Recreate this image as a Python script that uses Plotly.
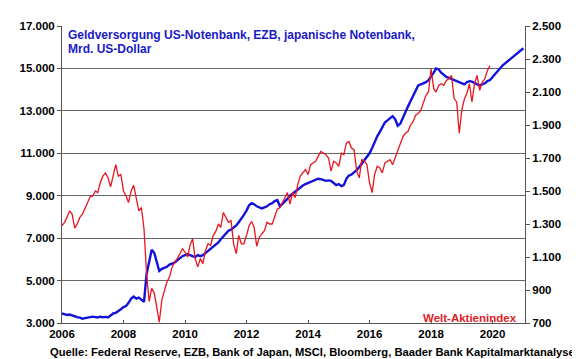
import pandas as pd
import plotly.graph_objects as go

# Geldversorgung (Mrd. US-Dollar), monthly 2006-01 .. 2021-01
blue_dates = pd.date_range("2006-01-01", "2021-01-01", freq="MS")
blue_values = [
    3450, 3420, 3380, 3400, 3350, 3300, 3280, 3250, 3200, 3230, 3260, 3280,  # 2006
    3300, 3280, 3260, 3300, 3270, 3290, 3260, 3350, 3450, 3480, 3550, 3650,  # 2007
    3750, 3800, 3950, 4150, 4250, 4150, 4200, 4100, 4000, 5300, 5950, 6450,  # 2008
    6300, 5800, 5450, 5550, 5600, 5650, 5750, 5800, 5850, 5950, 6050, 6150,  # 2009
    6200, 6250, 6200, 6150, 6100, 6200, 6150, 6200, 6300, 6400, 6500, 6600,  # 2010
    6700, 6800, 6950, 7100, 7250, 7350, 7400, 7500, 7600, 7750, 7900, 8100,  # 2011
    8300, 8550, 8650, 8600, 8500, 8450, 8400, 8450, 8500, 8600, 8650, 8750,  # 2012
    8800, 8500, 8600, 8750, 8850, 9000, 9100, 9200, 9300, 9400, 9480, 9550,  # 2013
    9600, 9650, 9700, 9750, 9800, 9780, 9750, 9700, 9720, 9700, 9600, 9500,  # 2014
    9550, 9450, 9500, 9800, 9950, 10000, 10100, 10200, 10350, 10500, 10700, 10850,  # 2015
    11000, 11250, 11550, 11800, 12000, 12200, 12450, 12550, 12650, 12750, 12600, 12300,  # 2016
    12400, 12700, 12900, 13200, 13450, 13700, 13900, 14200, 14250, 14300, 14350, 14450,  # 2017
    14600, 14800, 15000, 14950, 14800, 14700, 14600, 14550, 14500, 14450, 14400, 14350,  # 2018
    14300, 14250, 14350, 14400, 14380, 14300, 14250, 14200, 14250, 14300, 14400, 14450,  # 2019
    14600, 14750, 14900, 15050, 15150, 15250, 15350, 15450, 15550, 15650, 15750, 15850,  # 2020
    15950,  # 2021-01
]

# Welt-Aktienindex (MSCI World), monthly 2006-01 .. 2019-12
red_dates = pd.date_range("2006-01-01", "2019-12-01", freq="MS")
red_values = [
    1290, 1310, 1340, 1380, 1360, 1275, 1300, 1340, 1360, 1400, 1430, 1465,  # 2006
    1470, 1500, 1490, 1550, 1590, 1610, 1580, 1525, 1600, 1660, 1590, 1600,  # 2007
    1500, 1470, 1430, 1500, 1535, 1450, 1380, 1400, 1270, 1000, 830, 910,    # 2008
    880, 790, 705, 840, 900, 950, 980, 1040, 1070, 1090, 1120, 1150,          # 2009
    1130, 1100, 1170, 1210, 1090, 1040, 1090, 1060, 1140, 1180, 1170, 1230,   # 2010
    1255, 1300, 1280, 1370, 1340, 1310, 1320, 1180, 1120, 1230, 1180, 1180,   # 2011
    1230, 1290, 1315, 1280, 1165, 1220, 1240, 1260, 1310, 1300, 1300, 1340,   # 2012
    1390, 1400, 1430, 1460, 1490, 1420, 1490, 1460, 1540, 1590, 1610, 1630,   # 2013
    1600, 1660, 1670, 1680, 1710, 1740, 1730, 1720, 1700, 1620, 1680, 1670,   # 2014
    1650, 1730, 1720, 1790, 1800, 1760, 1750, 1620, 1580, 1690, 1680, 1660,   # 2015
    1550, 1490, 1600, 1650, 1640, 1610, 1670, 1680, 1690, 1660, 1700, 1740,   # 2016
    1780, 1830, 1850, 1860, 1900, 1920, 1960, 1970, 1990, 2040, 2080, 2100,   # 2017
    2240, 2120, 2100, 2140, 2150, 2140, 2170, 2180, 2200, 2060, 2040, 1850,   # 2018
    1990, 2060, 2090, 2150, 2040, 2150, 2200, 2110, 2160, 2180, 2230, 2260,   # 2019
]

left_ticks = [3000, 5000, 7000, 9000, 11000, 13000, 15000, 17000]
right_ticks = [700, 900, 1100, 1300, 1500, 1700, 1900, 2100, 2300, 2500]
year_ticks = ["2006", "2008", "2010", "2012", "2014", "2016", "2018", "2020"]

tick_font = dict(family="Liberation Sans", size=11.5, color="black", weight="bold")

fig = go.Figure()
fig.add_trace(go.Scatter(x=red_dates, y=red_values, yaxis="y2", mode="lines",
                         line=dict(color="#e8161e", width=1.3), name="Welt-Aktienindex"))
fig.add_trace(go.Scatter(x=blue_dates, y=blue_values, yaxis="y", mode="lines",
                         line=dict(color="#1212d8", width=2.4), name="Geldversorgung"))

fig.update_layout(
    width=572, height=351,
    margin=dict(l=53, r=55, t=12, b=36),
    paper_bgcolor="white", plot_bgcolor="white",
    showlegend=False,
    separators=",.",
    xaxis=dict(
        type="date",
        range=["2006-01-01", "2021-01-20"],
        tickvals=[y + "-01-01" for y in year_ticks],
        ticktext=year_ticks,
        ticks="inside", ticklen=3, tickcolor="#555",
        showline=True, linecolor="#555", linewidth=1,
        showgrid=False, zeroline=False,
        tickfont=tick_font,
    ),
    yaxis=dict(
        range=[3000, 17000],
        tickvals=left_ticks,
        tickformat=",d",
        ticks="outside", ticklen=4, tickcolor="#555",
        showline=True, linecolor="#555", linewidth=1,
        showgrid=True, gridcolor="#666", gridwidth=1,
        zeroline=False,
        tickfont=tick_font,
    ),
    yaxis2=dict(
        range=[700, 2500],
        tickvals=right_ticks,
        tickformat=",d",
        overlaying="y", side="right",
        ticks="outside", ticklen=4, tickcolor="#555",
        showline=True, linecolor="#555", linewidth=1,
        showgrid=False, zeroline=False,
        tickfont=tick_font,
    ),
    annotations=[
        dict(xref="paper", yref="paper", x=0.011, y=1.0, xanchor="left", yanchor="top",
             yshift=-1, borderpad=0,
             text="<b>Geldversorgung US-Notenbank, EZB, japanische Notenbank,</b>",
             showarrow=False, font=dict(family="Liberation Sans", size=12, color="#1a1ac8")),
        dict(xref="paper", yref="paper", x=0.011, y=1.0, xanchor="left", yanchor="top",
             yshift=-15, borderpad=0, text="<b>Mrd. US-Dollar</b>",
             showarrow=False, font=dict(family="Liberation Sans", size=12, color="#1a1ac8")),
        dict(xref="paper", yref="paper", x=0.988, y=0.0, xanchor="right", yanchor="middle",
             yshift=5, text="<b>Welt-Aktienindex</b>",
             showarrow=False, font=dict(family="Liberation Sans", size=11.5, color="#e0201f")),
        dict(xref="paper", yref="paper", x=0.54, y=0.0, xanchor="center", yanchor="middle",
             yshift=-29, text="<b>Quelle: Federal Reserve, EZB, Bank of Japan, MSCI, Bloomberg, Baader Bank Kapitalmarktanalyse</b>",
             showarrow=False, font=dict(family="Liberation Sans", size=11.2, color="black")),
    ],
)

fig.write_html("out.html")
